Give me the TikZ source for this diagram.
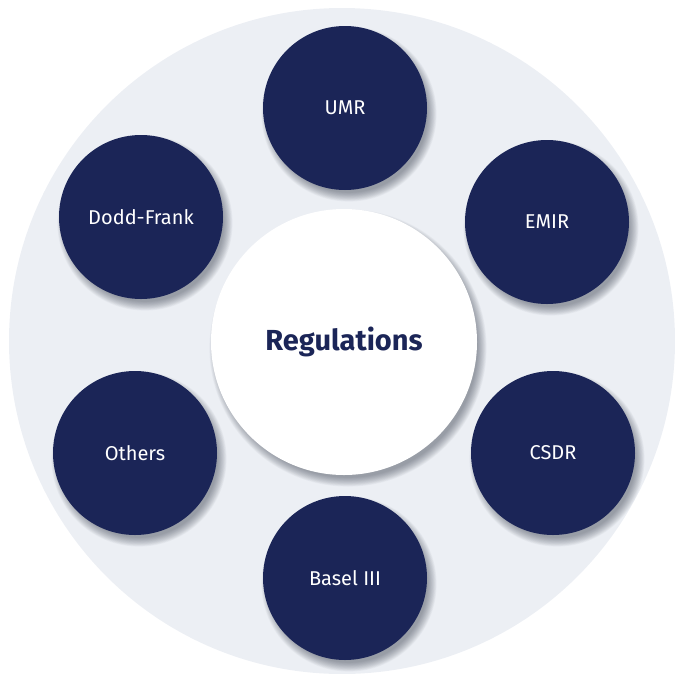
\documentclass[tikz,border=0pt]{standalone}
\usepackage{fontspec}
\setmainfont{Fira Sans}
\definecolor{navy}{HTML}{1B2557}
\definecolor{bgcirc}{HTML}{ECEFF4}
\definecolor{shadowc}{HTML}{3A4150}
\newcommand\softshade[3]{%
  \foreach \k in {1,...,16}{%
    \fill[shadowc,opacity=0.035] (#1+4,#2+6) circle ({#3-4+\k*0.6});
  }}
\begin{document}
\begin{tikzpicture}[x=1pt,y=-1pt,
  reg/.style={circle,fill=navy,minimum size=164pt,inner sep=0pt,text=white,font=\fontsize{20}{22}\selectfont},
  hub/.style={circle,fill=white,minimum size=266pt,inner sep=0pt,text=navy,font=\fontsize{29}{32}\selectfont\bfseries}]
\useasboundingbox (0,0) rectangle (675,673);
\fill[bgcirc] (342,341) circle (333);
\softshade{344}{342}{133}
\softshade{345}{108}{82}
\softshade{141}{217}{82}
\softshade{547}{222}{82}
\softshade{135}{453}{82}
\softshade{553}{453}{82}
\softshade{345}{578}{82}
\node[hub] (c) at (344,342) {Regulations};
\node[reg] (umr) at (345,108) {UMR};
\node[reg] (df) at (141,217) {Dodd-Frank};
\node[reg] (emir) at (547,222) {EMIR};
\node[reg] (oth) at (135,453) {Others};
\node[reg] (csdr) at (553,453) {CSDR};
\node[reg] (basel) at (345,578) {Basel III};
\end{tikzpicture}
\end{document}
